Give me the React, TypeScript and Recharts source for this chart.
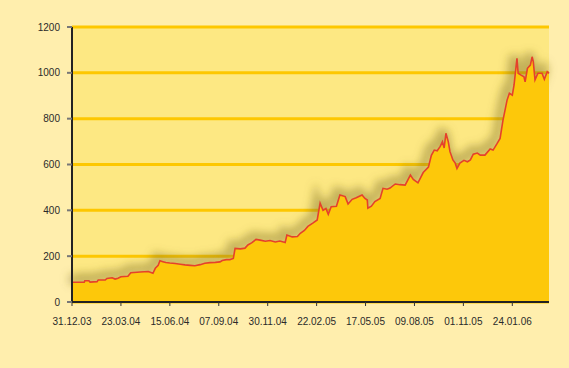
import { AreaChart, Area, XAxis, YAxis, CartesianGrid } from "recharts"

// trading days counted from 31.12.03
const days = [
  0, 14, 21, 22, 29, 31, 43, 45, 57, 60, 69, 74, 79, 84, 96, 101, 117, 131, 139, 143,
  148, 151, 156, 161, 168, 177, 186, 194, 203, 211, 220, 228, 237, 246, 254, 258, 265, 271, 277, 280,
  289, 297, 302, 309, 316, 323, 332, 340, 349, 357, 366, 369, 378, 387, 392, 399, 405, 414, 421, 426,
  431, 436, 440, 445, 454, 460, 469, 474, 481, 488, 498, 503, 507, 508, 514, 520, 529, 534, 541, 546,
  555, 563, 572, 581, 586, 594, 603, 612, 617, 622, 627, 632, 636, 639, 642, 646, 649, 654, 658, 661,
  666, 673, 679, 684, 689, 696, 701, 709, 718, 723, 730, 735, 740, 747, 751, 756, 759, 764, 766, 771,
  776, 778, 782, 787, 790, 792, 795, 800, 807, 811, 816, 819,
]

const prices = [
  86, 86, 86, 93, 93, 87, 89, 96, 96, 103, 106, 100, 104, 110, 112, 128, 131, 133, 125, 147,
  160, 180, 176, 172, 170, 168, 165, 162, 160, 158, 163, 169, 172, 173, 175, 181, 185, 185, 190, 234,
  232, 235, 249, 259, 273, 270, 265, 268, 262, 266, 260, 292, 284, 286, 300, 312, 330, 345, 358, 431,
  400, 408, 383, 416, 418, 467, 460, 428, 448, 455, 467, 452, 445, 409, 418, 438, 452, 496, 492, 497,
  515, 512, 510, 554, 535, 520, 565, 589, 640, 663, 660, 678, 699, 672, 736, 700, 656, 620, 606, 583,
  606, 618, 612, 620, 645, 650, 641, 641, 668, 663, 692, 714, 794, 881, 911, 903, 947, 1063, 998, 990,
  983, 961, 1020, 1034, 1070, 1049, 969, 998, 998, 972, 1005, 998,
]

const tickDays = [0, 84, 168, 252, 336, 420, 504, 588, 672, 756]
const tickLabels = [
  "31.12.03", "23.03.04", "15.06.04", "07.09.04", "30.11.04",
  "22.02.05", "17.05.05", "09.08.05", "01.11.05", "24.01.06",
]
const yTicks = [0, 200, 400, 600, 800, 1000, 1200]

const data = days.map((d, i) => ({ day: d, price: prices[i] }))

export default function App() {
  return (
    <div style={{ position: "fixed", left: 0, top: 0, width: 569, height: 368, background: "#FFEEAD" }}>
      <AreaChart
        width={569}
        height={368}
        data={data}
        margin={{ top: 27, right: 20, left: 0, bottom: 0 }}
      >
        <defs>
          <filter id="shade" x="-10%" y="-20%" width="120%" height="140%">
            <feGaussianBlur stdDeviation="4" />
            <feOffset dx="-3" dy="-3" />
          </filter>
        </defs>
        <CartesianGrid
          horizontal
          vertical={false}
          fill="#FDE883"
          stroke="#FDC700"
          strokeWidth={3}
          strokeOpacity={1}
        />
        <XAxis
          type="number"
          dataKey="day"
          domain={[0, 819]}
          ticks={tickDays}
          tickFormatter={(v) => tickLabels[tickDays.indexOf(v)] ?? ""}
          height={66}
          tickSize={4}
          tickMargin={12}
          axisLine={{ stroke: "#222", strokeWidth: 2 }}
          tickLine={{ stroke: "#333" }}
          tick={{ fontSize: 10, fill: "#2a2a2a", fontFamily: "Liberation Sans, Arial, sans-serif" }}
          interval={0}
        />
        <YAxis
          domain={[0, 1200]}
          ticks={yTicks}
          width={72}
          tickSize={5}
          tickMargin={7}
          axisLine={{ stroke: "#222", strokeWidth: 2 }}
          tickLine={{ stroke: "#777", strokeWidth: 2 }}
          tick={{ fontSize: 10, fill: "#2a2a2a", fontFamily: "Liberation Sans, Arial, sans-serif" }}
          interval={0}
        />
        {/* soft shadow above the curve */}
        <Area
          type="linear"
          dataKey="price"
          stroke="#7F6E25"
          strokeWidth={10}
          strokeOpacity={0.45}
          fill="none"
          filter="url(#shade)"
          isAnimationActive={false}
          dot={false}
          activeDot={false}
        />
        <Area
          type="linear"
          dataKey="price"
          stroke="#E5412B"
          strokeWidth={1.6}
          fill="#FDC80A"
          fillOpacity={1}
          isAnimationActive={false}
          dot={false}
          activeDot={false}
        />
      </AreaChart>
    </div>
  )
}
